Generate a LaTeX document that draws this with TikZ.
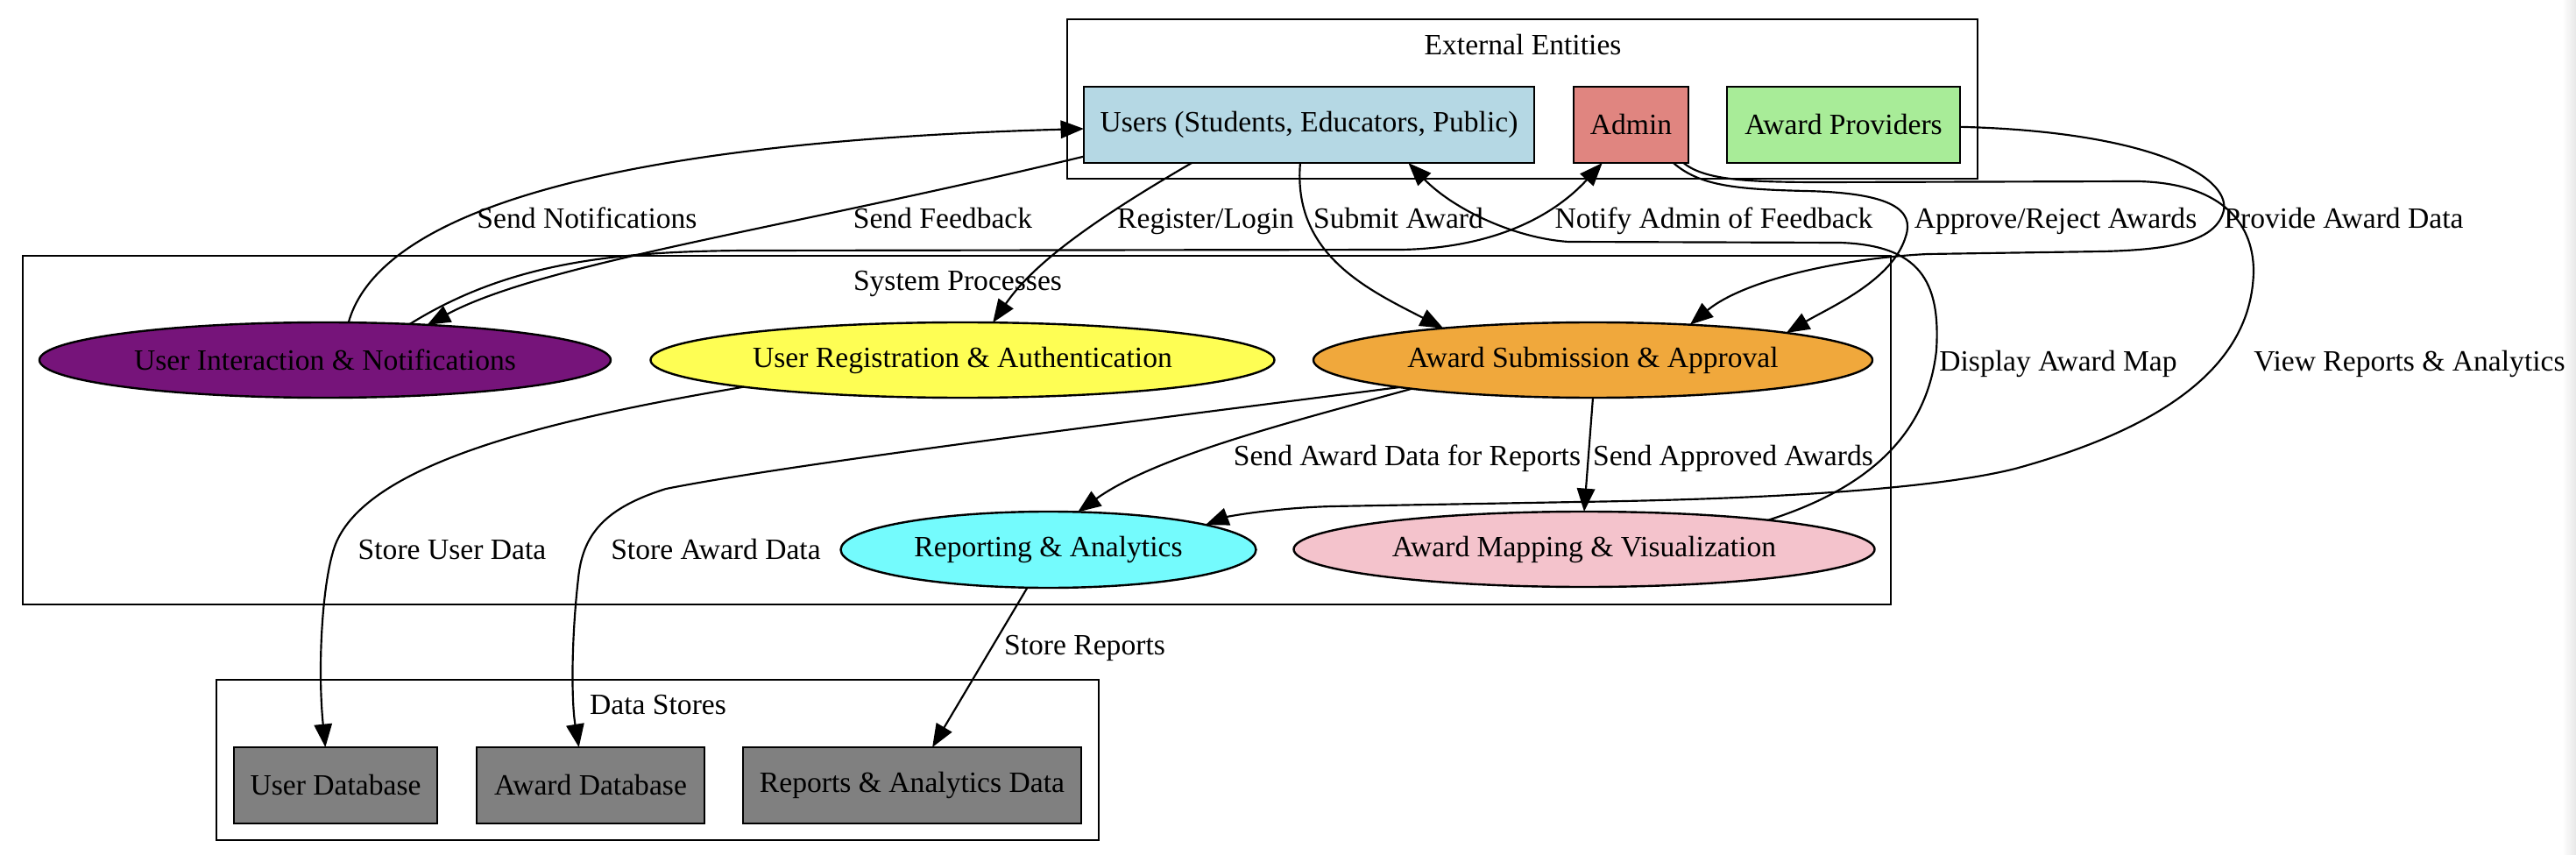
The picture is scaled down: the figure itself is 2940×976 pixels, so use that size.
\documentclass[tikz,border=0pt]{standalone}
\usepackage{fontspec}
\setmainfont{Liberation Serif}
\usetikzlibrary{shapes.geometric,arrows.meta}
\definecolor{cUsers}{RGB}{181,216,228}
\definecolor{cAdmin}{RGB}{224,133,128}
\definecolor{cProv}{RGB}{168,236,152}
\definecolor{cPurple}{RGB}{118,20,122}
\definecolor{cYellow}{RGB}{254,254,84}
\definecolor{cOrange}{RGB}{240,168,60}
\definecolor{cCyan}{RGB}{116,251,253}
\definecolor{cPink}{RGB}{244,195,204}
\definecolor{cGray}{RGB}{128,128,128}
\definecolor{cEdge}{RGB}{232,232,232}
\def\U{0.41667pt}
\begin{document}
\begin{tikzpicture}[x=0.41667pt,y=-0.41667pt,
  font=\fontsize{14}{16}\selectfont,
  every node/.style={inner sep=0pt, outer sep=0pt},
  ent/.style={draw, line width=1pt, rectangle, minimum height={87*\U}},
  proc/.style={draw, line width=1pt, ellipse, minimum height={86*\U}},
  cluster/.style={draw, line width=1pt},
  lbl/.style={anchor=base},
  flow/.style={line width=0.9pt, -{Triangle[length=11pt,width=8.5pt]}},
]
\useasboundingbox (0,0) rectangle (2940,976);
\fill[white] (0,0) rectangle (2940,976);
\shade[left color=white,right color=cEdge] (2924,0) rectangle (2940,976);

% clusters
\draw[cluster] (1218,22) rectangle (2257,204);
\node[lbl] (extT) at (1738,63) {External Entities};
\draw[cluster] (26,292) rectangle (2158,690);
\node[lbl] (sysT) at (1093,332) {System Processes};
\draw[cluster] (247,776) rectangle (1254,959);
\node[lbl] (dsT) at (751,815) {Data Stores};

% nodes
\node[ent, fill=cUsers, minimum width={514*\U}] (users) at (1494,142.5) {Users (Students, Educators, Public)};
\node[ent, fill=cAdmin, minimum width={131*\U}] (admin) at (1861.5,142.5) {Admin};
\node[ent, fill=cProv, minimum width={266*\U}] (prov) at (2104,142.5) {Award Providers};
\node[proc, fill=cPurple, minimum width={652*\U}] (notif) at (371,411) {User Interaction \& Notifications};
\node[proc, fill=cYellow, minimum width={712*\U}] (reg) at (1098.5,411) {User Registration \& Authentication};
\node[proc, fill=cOrange, minimum width={638*\U}] (sub) at (1818,411) {Award Submission \& Approval};
\node[proc, fill=cCyan, minimum width={474*\U}, minimum height={87*\U}] (rep) at (1196.5,627.5) {Reporting \& Analytics};
\node[proc, fill=cPink, minimum width={663*\U}] (map) at (1808,627) {Award Mapping \& Visualization};
\node[ent, fill=cGray, minimum width={232*\U}] (udb) at (383,896.5) {User Database};
\node[ent, fill=cGray, minimum width={260*\U}] (adb) at (674,896.5) {Award Database};
\node[ent, fill=cGray, minimum width={386*\U}] (rdb) at (1041,896.5) {Reports \& Analytics Data};

% edges
\draw[flow] (notif.58) .. controls (425,270) and (600,165) .. (users.181);
\draw[flow] (users.188.7) .. controls (900,260) and (620,300) .. (notif.19.5);
\draw[flow] (notif.23.9) .. controls (580,300) and (700,287) .. (850,286) -- (1600,285) .. controls (1700,283) and (1770,250) .. (admin.-127.6);
\draw[flow] (users.-162.3) .. controls (1250,250) and (1180,300) .. (reg.51.9);
\draw[flow] (users.-103) .. controls (1475,290) and (1560,330) .. (sub.168.2);
\draw[flow] (admin.-42) .. controls (1940,212) and (1980,216) .. (2060,218) .. controls (2160,220) and (2185,240) .. (2175,270) .. controls (2160,320) and (2090,350) .. (sub.8.5);
\draw[flow] (prov.-1.9) .. controls (2450,150) and (2545,200) .. (2538,240) .. controls (2530,275) and (2480,285) .. (2400,287) -- (2200,290) .. controls (2100,295) and (1990,320) .. (sub.20.2);
\draw[flow] (admin.-36.6) .. controls (1945,205) and (1990,208) .. (2080,208) -- (2440,207) .. controls (2530,209) and (2572,250) .. (2572,310) .. controls (2570,400) and (2500,480) .. (2300,535) .. controls (2200,560) and (2000,570) .. (1800,573) -- (1520,578) .. controls (1450,580) and (1400,590) .. (rep.9.9);
\draw[flow] (map.9.3) .. controls (2140,555) and (2200,490) .. (2210,400) .. controls (2215,320) and (2190,280) .. (2100,277) -- (1790,276) .. controls (1730,272) and (1660,240) .. (users.-21.8);
\draw[flow] (sub.-171.7) .. controls (1480,480) and (1320,520) .. (rep.52.2);
\draw[flow] (sub.south) -- (map.north);
\draw[flow] (reg.-173.4) .. controls (620,480) and (420,530) .. (383,621) .. controls (368,660) and (362,760) .. (udb.105.4);
\draw[flow] (sub.-172.4) .. controls (1300,480) and (900,530) .. (760,558) .. controls (690,580) and (665,610) .. (660,660) .. controls (652,730) and (652,800) .. (adb.107.8);
\draw[flow] (rep.-119.5) -- (rdb.62.1);

% edge labels
\node[lbl] (l1) at (670,261) {Send Notifications};
\node[lbl] (l2) at (1076,261) {Send Feedback};
\node[lbl] (l3) at (1376,261) {Register/Login};
\node[lbl] (l4) at (1596,261) {Submit Award};
\node[lbl] (l5) at (1956,261) {Notify Admin of Feedback};
\node[lbl] (l6) at (2346,261) {Approve/Reject Awards};
\node[lbl] (l7) at (2675,261) {Provide Award Data};
\node[lbl] (l8) at (2349,424) {Display Award Map};
\node[lbl] (l9) at (2750,424) {View Reports \& Analytics};
\node[lbl] (l10) at (1606,531) {Send Award Data for Reports};
\node[lbl] (l11) at (1978,531) {Send Approved Awards};
\node[lbl] (l12) at (516,638) {Store User Data};
\node[lbl] (l13) at (817,638) {Store Award Data};
\node[lbl] (l14) at (1238,747) {Store Reports};
\end{tikzpicture}
\end{document}
